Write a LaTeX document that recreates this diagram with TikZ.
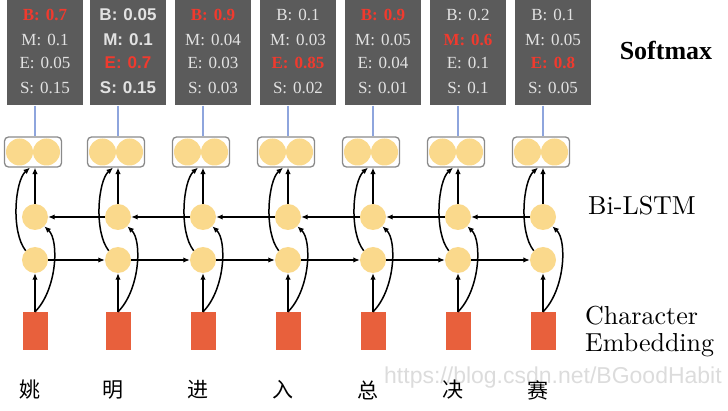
\documentclass[tikz,border=0pt]{standalone}
\usepackage{fontspec}
\newfontfamily\cjkf{Noto Sans CJK SC}
\newfontfamily\tnrf{Liberation Serif}
\newfontfamily\arif{Liberation Sans}
\newfontfamily\lmten{lmroman10-regular.otf}
\usetikzlibrary{arrows.meta}
\definecolor{boxgray}{HTML}{5B5B5B}
\definecolor{txtgray}{HTML}{E2E2E2}
\definecolor{redv}{HTML}{F03A2E}
\definecolor{yel}{HTML}{FAD98C}
\definecolor{emb}{HTML}{E8603C}
\definecolor{framegray}{HTML}{8A8A8A}
\definecolor{bluel}{HTML}{8EA5DD}
\definecolor{wmark}{HTML}{DCDCDC}
\newcommand\NV[2]{#1\hspace{6pt}#2}
\newcommand\RV[2]{{\color{redv}\bfseries #1\hspace{6pt}#2}}
\tikzset{
  probbox/.style={fill=boxgray, draw=none, minimum width=76pt, minimum height=107pt, inner sep=0pt},
  rowtxt/.style={text=txtgray, inner sep=0pt, font=\fontsize{17}{17}\selectfont},
  outbox/.style={draw=framegray, line width=1.3pt, rounded corners=4pt, minimum width=57pt, minimum height=30pt, inner sep=0pt},
  cell/.style={circle, fill=yel, minimum size=26pt, inner sep=0pt},
  embbox/.style={fill=emb, minimum width=25pt, minimum height=38pt, inner sep=0pt},
  chr/.style={font=\cjkf\fontsize{21}{21}\selectfont, inner sep=0pt},
  arr/.style={line width=1.5pt, -{Latex[length=6.5pt,width=5.5pt]}},
  blueline/.style={draw=bluel, line width=1.3pt},
  lbl/.style={inner sep=0pt, font=\lmten\fontsize{26}{27}\selectfont}
}
\begin{document}
\begin{tikzpicture}[x=1pt,y=-1pt]
\useasboundingbox (0,0) rectangle (728,411);
% watermark
\node[anchor=west, inner sep=0pt, text=wmark, font=\arif\fontsize{23}{23}\selectfont] (wm) at (384,378) {https://blog.csdn.net/BGoodHabit};
\foreach \i/\cx/\ff/\ta/\tb/\tc/\td/\ch in {
 1/35/\tnrf/{\RV{B:}{0.7}}/{\NV{M:}{0.1}}/{\NV{E:}{0.05}}/{\NV{S:}{0.15}}/姚,
 2/118/\arif\bfseries/{\NV{B:}{0.05}}/{\NV{M:}{0.1}}/{\RV{E:}{0.7}}/{\NV{S:}{0.15}}/明,
 3/203/\tnrf/{\RV{B:}{0.9}}/{\NV{M:}{0.04}}/{\NV{E:}{0.03}}/{\NV{S:}{0.03}}/进,
 4/288/\tnrf/{\NV{B:}{0.1}}/{\NV{M:}{0.03}}/{\RV{E:}{0.85}}/{\NV{S:}{0.02}}/入,
 5/373/\tnrf/{\RV{B:}{0.9}}/{\NV{M:}{0.05}}/{\NV{E:}{0.04}}/{\NV{S:}{0.01}}/总,
 6/458/\tnrf/{\NV{B:}{0.2}}/{\RV{M:}{0.6}}/{\NV{E:}{0.1}}/{\NV{S:}{0.1}}/决,
 7/543/\tnrf/{\NV{B:}{0.1}}/{\NV{M:}{0.05}}/{\RV{E:}{0.8}}/{\NV{S:}{0.05}}/赛}{
  \node[probbox] (p\i) at (\cx+10,52) {};
  \node[rowtxt] (pb\i) at (\cx+10,15) {\ff\ta};
  \node[rowtxt] (pm\i) at (\cx+10,40) {\ff\tb};
  \node[rowtxt] (pe\i) at (\cx+10,63) {\ff\tc};
  \node[rowtxt] (ps\i) at (\cx+10,88) {\ff\td};
  \fill[yel] (\cx-2-13.5,152) circle[radius=13.5pt];
  \fill[yel] (\cx-2+13.5,152) circle[radius=13.5pt];
  \node[outbox] (o\i) at (\cx-2,152) {};
  \node[cell] (u\i) at (\cx,217) {};
  \node[cell] (l\i) at (\cx,260) {};
  \node[embbox] (e\i) at (\cx,331) {};
  \node[chr] (c\i) at (\cx-5,390) {\ch};
  \draw[blueline] (u\i |- p\i.south) -- (u\i |- o\i.north);
  \draw[arr] (u\i) -- (u\i |- o\i.south);
  \draw[arr] (e\i) -- (l\i);
  \draw[arr] (l\i.north west) .. controls +(-15,-19) and +(-15,13) .. ([xshift=-3pt]o\i.south);
  \draw[arr] (e\i.north) .. controls +(22,-22) and +(15,14) .. (u\i.south east);
}
\foreach \i [evaluate=\i as \j using int(\i+1)] in {1,...,6}{
  \draw[arr] (u\j) -- (u\i);
  \draw[arr] (l\i) -- (l\j);
}
\node[inner sep=0pt, font=\tnrf\bfseries\fontsize{26}{26}\selectfont] (sm) at (666,50) {Softmax};
\node[lbl, anchor=west] (bl) at (588,206) {Bi-LSTM};
\node[lbl, anchor=west, align=left] (ce) at (585,332) {Character\\Embedding};
\end{tikzpicture}
\end{document}
